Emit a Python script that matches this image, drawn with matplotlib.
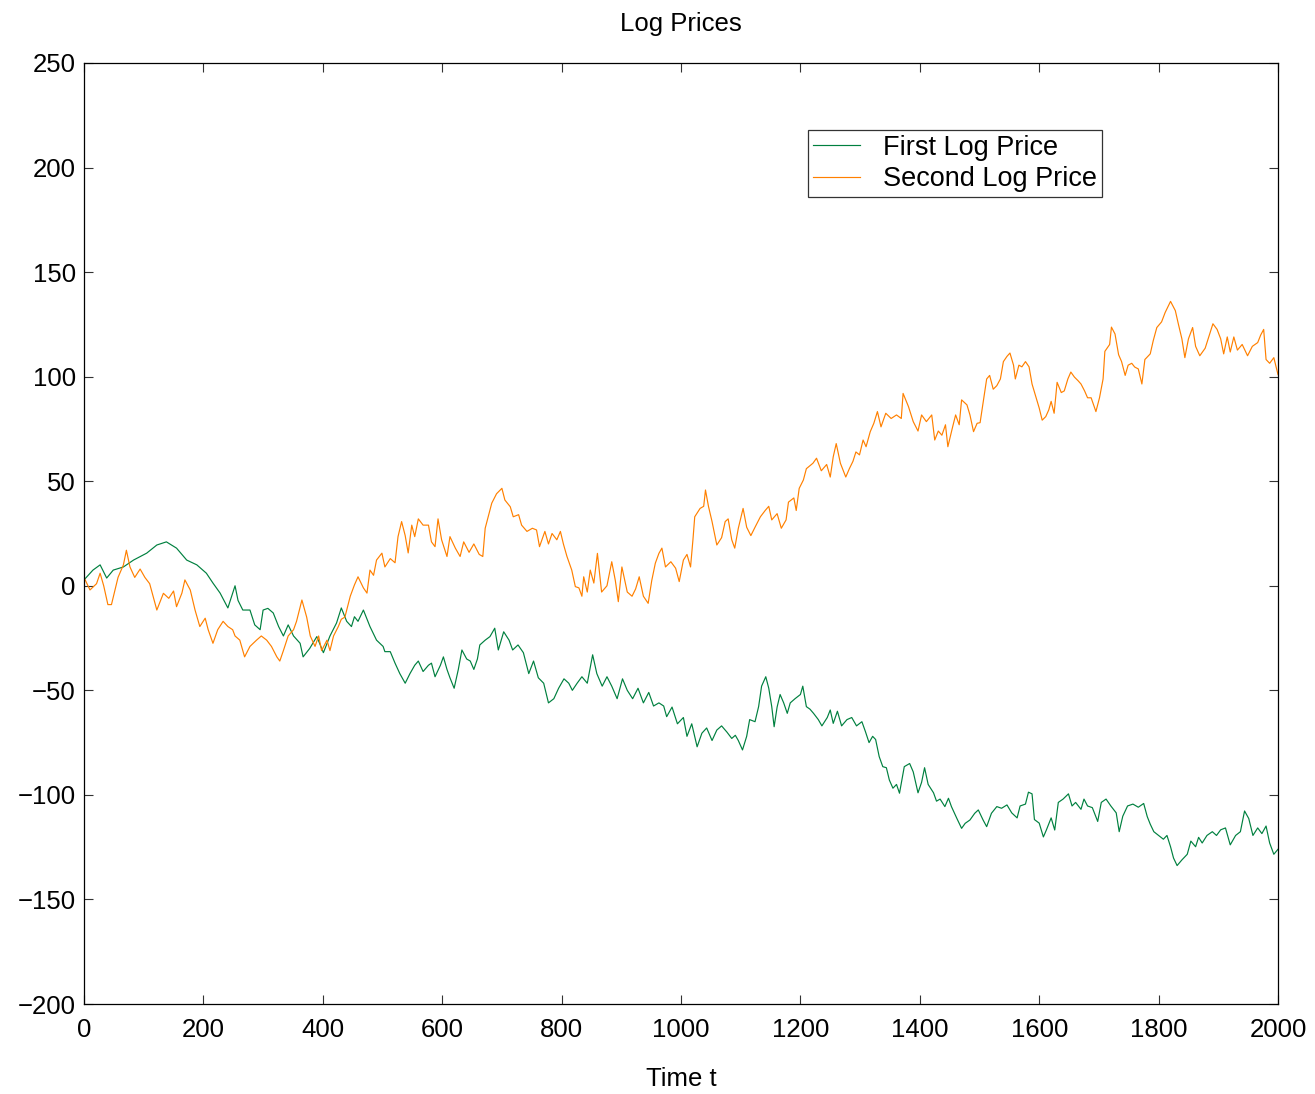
import matplotlib
matplotlib.use("Agg")
import matplotlib.pyplot as plt

plt.rcParams['font.family'] = ['Liberation Sans', 'DejaVu Sans']

green_t = [0, 15, 27, 38, 49, 66, 83, 105, 122, 138, 155, 172, 189, 205, 216, 228, 241, 253, 258, 266,
           278, 286, 295, 300, 308, 317, 326, 334, 342, 351, 362, 367, 378, 390, 401, 412, 423, 431, 440, 448,
           453, 459, 468, 479, 490, 501, 504, 513, 521, 529, 538, 546, 554, 560, 568, 577, 582, 588, 597, 602,
           608, 613, 620, 627, 633, 641, 647, 653, 659, 663, 672, 680, 688, 694, 703, 712, 718, 727, 736, 745,
           753, 761, 770, 778, 787, 795, 804, 812, 818, 826, 834, 843, 852, 859, 868, 876, 884, 893, 902, 910,
           919, 928, 937, 946, 954, 963, 971, 976, 985, 994, 1004, 1010, 1018, 1027, 1035, 1043, 1052, 1060, 1068, 1077,
           1085, 1091, 1096, 1103, 1110, 1115, 1124, 1130, 1135, 1142, 1147, 1152, 1156, 1161, 1166, 1172, 1178, 1183, 1191, 1200,
           1204, 1210, 1216, 1222, 1230, 1236, 1245, 1250, 1255, 1262, 1269, 1278, 1286, 1294, 1303, 1309, 1315, 1321, 1326, 1332,
           1338, 1344, 1349, 1355, 1361, 1366, 1374, 1383, 1389, 1397, 1403, 1408, 1414, 1423, 1428, 1434, 1442, 1448, 1453, 1462,
           1470, 1476, 1484, 1492, 1498, 1506, 1512, 1520, 1529, 1537, 1546, 1554, 1563, 1568, 1577, 1582, 1588, 1592, 1600, 1607,
           1612, 1620, 1626, 1632, 1640, 1649, 1655, 1661, 1670, 1675, 1681, 1689, 1698, 1704, 1712, 1720, 1729, 1734, 1740, 1748,
           1757, 1766, 1775, 1781, 1786, 1792, 1800, 1808, 1814, 1820, 1825, 1831, 1839, 1848, 1854, 1862, 1867, 1873, 1881, 1890,
           1897, 1904, 1912, 1920, 1929, 1937, 1944, 1951, 1958, 1966, 1973, 1980, 1986, 1993, 2000]
green_v = [2.8, 7.5, 10, 3.7, 7.5, 9, 12.3, 15.6, 19.5, 21, 18, 12.3, 10, 6, 1.3, -3.5, -10.6, 0, -7, -11.6,
           -11.6, -18.7, -21, -11.6, -10.8, -13, -19.5, -24, -18.7, -24, -27.5, -34, -30, -24.3, -32, -24, -17.8, -10.6, -17, -19.5,
           -14.8, -17, -11.6, -19.5, -26, -29, -31.5, -31.5, -37, -42, -46.6, -42, -38, -36, -41, -38, -37, -43.5, -38, -34,
           -40, -44, -49, -40, -30.7, -35, -36, -40, -35, -28.3, -26, -24.3, -20.3, -30.7, -22, -26, -30.7, -28.3, -32, -42,
           -36, -44, -46.6, -56, -54, -49, -44.5, -46.6, -50, -46.6, -43.5, -46.6, -33, -42, -48, -43.5, -48, -54, -44.5, -50,
           -54, -49, -56, -51, -57.5, -56, -57.5, -62.6, -58, -66, -63, -72, -66, -77, -70.5, -68, -74, -69, -67, -70,
           -73, -71.5, -74, -78.5, -72, -64, -65, -57.8, -48, -43.5, -49, -57.8, -67.4, -58, -52, -56, -61, -56, -54, -52,
           -48, -57.8, -59, -61, -64, -67, -63, -59.4, -65.8, -60, -67, -64, -63, -67, -65, -69.8, -75, -72, -73.5, -81.7,
           -86.5, -87, -92.9, -96.8, -95, -99.2, -86.5, -85, -89, -99, -94, -87, -95, -99, -103, -102, -105.6, -101.6, -105.6, -111.2,
           -116, -113.6, -112, -108.8, -107.2, -112, -115.2, -108.8, -105.6, -106.4, -104.8, -108.6, -111, -105.3, -104.4, -98.7, -99.5, -111.8, -113.5, -120.1,
           -116.8, -111, -116.8, -103.6, -102, -99.5, -105.3, -103.6, -106.9, -102, -105.3, -106.1, -112.7, -103.6, -102, -105.3, -108.6, -117.6, -110.2, -105.3,
           -104.4, -105.9, -104.1, -110.4, -114, -117.6, -119.4, -121.2, -119.4, -124.8, -130.2, -133.8, -131.1, -128.4, -122.1, -124.8, -120.3, -123, -119.4, -117.6,
           -119.4, -116.7, -115.8, -123.9, -119.4, -117.6, -107.7, -111.3, -119.4, -115.8, -118.5, -114.9, -123, -128.4, -126]

orange_t = [0, 10, 21, 27, 33, 40, 46, 52, 57, 66, 71, 77, 85, 94, 102, 110, 122, 133, 142, 150,
            155, 164, 169, 178, 186, 194, 203, 208, 216, 224, 233, 241, 249, 253, 261, 269, 278, 289, 297, 306,
            314, 323, 328, 334, 342, 351, 356, 365, 373, 379, 387, 393, 398, 407, 412, 418, 426, 431, 437, 446,
            453, 459, 468, 474, 479, 485, 490, 499, 504, 513, 521, 526, 532, 538, 543, 549, 554, 560, 568, 577,
            582, 588, 593, 599, 608, 613, 622, 630, 636, 645, 653, 662, 668, 672, 677, 683, 691, 700, 705, 714,
            719, 728, 733, 742, 751, 758, 763, 772, 778, 784, 792, 798, 803, 809, 817, 823, 829, 834, 837, 843,
            848, 854, 860, 867, 876, 884, 890, 895, 901, 910, 918, 924, 930, 937, 945, 951, 957, 963, 968, 974,
            983, 991, 997, 1004, 1010, 1016, 1020, 1023, 1032, 1038, 1041, 1046, 1052, 1060, 1068, 1074, 1079, 1085, 1090, 1096,
            1104, 1110, 1117, 1124, 1133, 1141, 1147, 1152, 1161, 1168, 1176, 1180, 1189, 1193, 1198, 1205, 1210, 1221, 1227, 1235,
            1244, 1250, 1255, 1260, 1267, 1276, 1282, 1288, 1293, 1299, 1305, 1310, 1317, 1323, 1329, 1335, 1343, 1352, 1361, 1369,
            1372, 1381, 1389, 1397, 1403, 1411, 1420, 1425, 1431, 1437, 1443, 1447, 1455, 1460, 1466, 1470, 1479, 1484, 1490, 1496,
            1501, 1506, 1512, 1517, 1523, 1529, 1535, 1540, 1546, 1551, 1557, 1560, 1566, 1571, 1577, 1583, 1588, 1594, 1600, 1605,
            1611, 1616, 1620, 1625, 1630, 1637, 1642, 1648, 1653, 1659, 1665, 1670, 1676, 1681, 1687, 1695, 1701, 1707, 1710, 1718,
            1721, 1727, 1733, 1738, 1744, 1749, 1755, 1760, 1766, 1772, 1777, 1786, 1791, 1797, 1805, 1811, 1817, 1820, 1828, 1833,
            1839, 1844, 1850, 1857, 1862, 1869, 1878, 1884, 1891, 1898, 1904, 1909, 1915, 1920, 1926, 1932, 1940, 1949, 1957, 1966,
            1971, 1976, 1980, 1986, 1993, 2000]
orange_v = [4, -2, 1, 6, 0, -9, -9, -2, 4, 10, 17, 9, 4, 8, 4, 1, -11.6, -3.6, -6, -2.5,
            -10, -3.5, 2.8, -2, -11.6, -19.5, -15.5, -21, -27.5, -21, -17, -19.5, -21, -24, -26, -34, -29, -26, -24, -26,
            -29, -34, -36, -31, -24, -21, -17, -6.8, -15, -24, -29, -24, -31, -26, -31, -24, -19.5, -16, -15, -5,
            0.4, 4.3, -1, -3.5, 7.5, 5, 12.3, 15.6, 9, 13, 11, 23.5, 30.7, 24, 15.7, 29, 23.5, 32, 29, 29,
            21, 18.7, 32, 22, 14, 23.5, 18, 14, 21, 16, 20, 15, 14, 27.5, 33, 39.5, 44, 46.6, 41, 37.8,
            33, 34, 29, 26, 27.5, 26.7, 18.7, 26, 20, 25, 22, 26, 20, 14, 7.5, -0.4, -1, -5, 4.3, -3,
            7.5, 1.3, 15.5, -3, 0, 11.5, 2.5, -7.6, 9, -3, -5, -1.5, 4.3, -5, -8.4, 2.5, 10.8, 15.5, 18, 9,
            11.5, 8.4, 2, 12.3, 15, 9, 22, 33, 37, 38, 45.8, 38, 30.7, 19.5, 23, 30.7, 32, 22, 18, 27.5,
            37, 28, 24, 28, 33, 36, 38, 31.5, 34.5, 27.5, 31.5, 40, 42, 36, 46.6, 50.6, 56, 58.6, 61, 55,
            58, 52, 61.7, 68, 58.6, 52, 56, 59.5, 64, 62.6, 69.7, 66.5, 73.7, 77.7, 83.3, 76, 82.5, 80, 81.7, 80,
            92, 85.7, 78.5, 74, 81.7, 78.5, 81.7, 69.7, 74, 72, 77, 66.5, 76, 81.7, 77, 88.9, 86.5, 81.7, 73.7, 77.7,
            78, 87.4, 98.9, 100.6, 94, 95.7, 98.9, 107.2, 109.7, 111.3, 105.5, 98.9, 105.5, 104.7, 107.2, 104.7, 96.5, 90.7, 85, 79.2,
            80.9, 84.1, 88.2, 82.5, 97.3, 92.4, 93.2, 98.9, 102.2, 99.8, 98.1, 96.5, 93.2, 89.9, 89.9, 83.3, 89.9, 98.9, 112.1, 115.4,
            123.7, 120.4, 110.5, 107.2, 100.6, 105.5, 106.4, 104.6, 103.7, 96.5, 108.2, 110.9, 117.2, 123.5, 126.2, 130.7, 134.3, 136, 131.6, 125.3,
            118.1, 109.1, 118.1, 123.5, 114.5, 110, 113.6, 119, 125.3, 122.6, 118.1, 110.9, 119, 111.8, 119, 112.7, 115.4, 110, 114.5, 116.3,
            119.9, 122.6, 108.2, 106.4, 109.1, 101]

x_ticks = list(range(0, 2001, 200))
y_ticks = list(range(-200, 251, 50))

fig = plt.figure(figsize=(13.15, 10.94), dpi=100)
ax = fig.add_axes([84/1315, 90/1094, (1278-84)/1315, (1004-63)/1094])

ax.plot(green_t, green_v, color='#00803f', lw=0.85, label='First Log Price')
ax.plot(orange_t, orange_v, color='#ff8000', lw=0.85, label='Second Log Price')

ax.set_xlim(0, 2000)
ax.set_ylim(-200, 250)
ax.set_xticks(x_ticks)
ax.set_yticks(y_ticks)
ax.tick_params(direction='in', length=6.5, width=0.8, top=True, right=True,
               labelsize=18.5, color='#333333')
ax.tick_params(axis='x', pad=10)
ax.tick_params(axis='y', pad=6)
for s in ax.spines.values():
    s.set_linewidth(0.9)
    s.set_color('black')

ax.set_title('Log Prices', fontsize=18.5, pad=23)
ax.set_xlabel('Time t', fontsize=18.5, labelpad=18)

leg = ax.legend(loc='upper left', bbox_to_anchor=((808-84)/1194, (1004-130)/941),
                fontsize=19.5, frameon=True, fancybox=False, edgecolor='black',
                handlelength=1.75, handletextpad=0.85, borderpad=0.18, labelspacing=0.2,
                borderaxespad=0)
leg.get_frame().set_linewidth(0.9)

fig.savefig('out.png', dpi=100)
